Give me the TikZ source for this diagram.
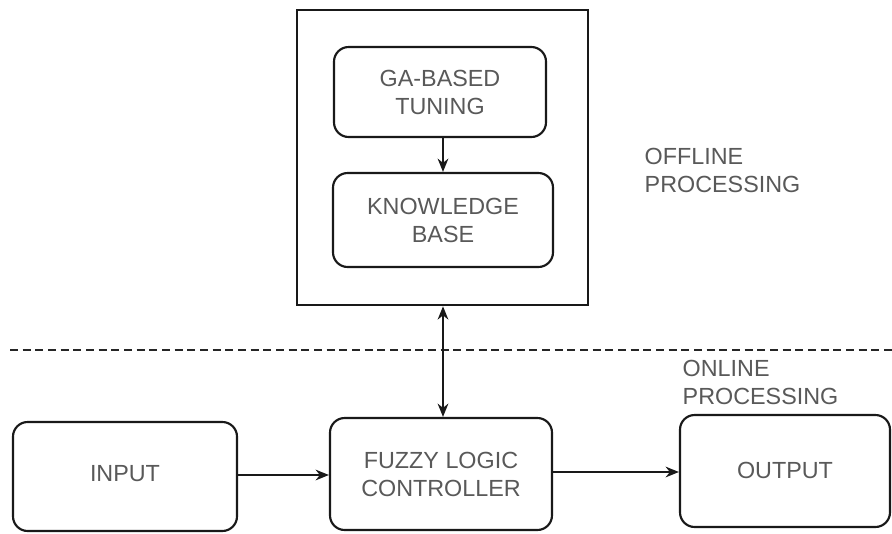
\documentclass[tikz,border=0pt]{standalone}
\usepackage{fontspec}
\setmainfont{Liberation Sans}
\usetikzlibrary{arrows.meta,fit}
\begin{document}
\begin{tikzpicture}[x=0.75pt,y=-0.75pt,
  every node/.style={font=\fontsize{17.5}{21}\selectfont, text=black!65, align=center},
  blk/.style={draw=black!90, line width=1.6pt, rounded corners=11pt, inner sep=0pt},
  frame/.style={draw=black!90, line width=1.9pt, inner sep=0pt},
  tip/.style={Stealth[length=10pt,width=8pt]},
  arr/.style={draw=black!90, line width=1.4pt, -{Stealth[length=10pt,width=8pt]}},
  darr/.style={draw=black!90, line width=1.4pt, {Stealth[length=10pt,width=8pt]}-{Stealth[length=10pt,width=8pt]}},
  lbl/.style={anchor=north west, align=left}]
  \useasboundingbox (0,0) rectangle (892,533);
  \fill[white] (0,0) rectangle (892,533);

  % offline part
  \node[frame, fit={(297,10) (588,305)}] (outer) {};
  \node[blk, fit={(334,47) (546,137)}] (ga) {};
  \node (gatxt) at (ga.center) {GA-BASED\\TUNING};
  \node[blk, fit={(333,173) (553,267)}] (kb) {};
  \node (kbtxt) at (kb.center) {KNOWLEDGE\\BASE};
  \draw[arr] (ga.south -| 443,0) -- (kb.north -| 443,0);

  \node[lbl] (offl) at (640,143) {OFFLINE\\PROCESSING};

  % separator between offline and online processing
  \coordinate (sepL) at (10,350);
  \coordinate (sepR) at (892,350);
  \draw[black!85, line width=1.3pt, dash pattern=on 6pt off 3.5pt] (sepL) -- (sepR);

  \node[lbl] (onl) at (678,355) {ONLINE\\PROCESSING};

  % online part
  \node[blk, fit={(13,422) (237,531)}] (in) {};
  \node (intxt) at (125,474) {INPUT};
  \node[blk, fit={(330,418) (552,530)}] (flc) {};
  \node (flctxt) at (flc.center) {FUZZY LOGIC\\CONTROLLER};
  \node[blk, fit={(680,415) (890,527)}] (out) {};
  \node (outtxt) at (785,470) {OUTPUT};

  \draw[arr] (in.east |- 0,475) -- (flc.west |- 0,475);
  \draw[arr] (flc.east |- 0,472) -- (out.west |- 0,472);
  \draw[darr] (outer.south -| 443,0) -- (flc.north -| 443,0);
\end{tikzpicture}
\end{document}
